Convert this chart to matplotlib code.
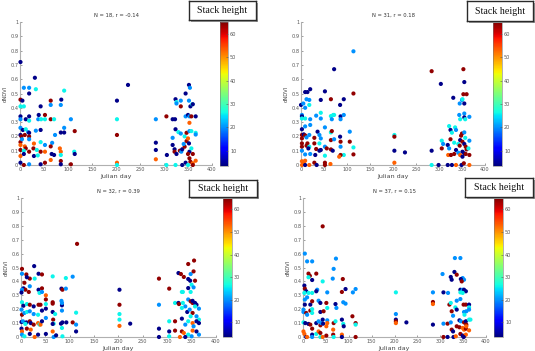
import matplotlib
matplotlib.use("Agg")
import matplotlib.pyplot as plt
from matplotlib.colors import Normalize
from matplotlib.cm import ScalarMappable
from matplotlib.patches import Rectangle

titles = ["N = 18, r = -0.14", "N = 31, r = 0.18", "N = 32, r = 0.39", "N = 37, r = 0.15"]
x_label = "Julian day"
y_label = "dNDVI"
cbar_title = "Stack height"
x_ticks = [0, 50, 100, 150, 200, 250, 300, 350, 400]
y_ticks = [0, 0.1, 0.2, 0.3, 0.4, 0.5, 0.6, 0.7, 0.8, 0.9, 1]
cbar_ticks = [10, 20, 30, 40, 50, 60]
height_min, height_max = 3.5, 65

days_1 = [1,31,8,19,33,19,92,1,5,64, 86,1,8,43,64,85,1,19,39,52, 1,12,19,38,44,52,64,71,106,1,
          6,12,17,19,33,43,1,3,10,19, 73,85,92,92,114,1,4,19,1,10, 29,43,52,67,64,1,12,8,19,28,
          35,43,52,1,8,29,37,66,71,83, 85,85,113,114,1,8,19,43,52,64, 85,85,106,202,202,202,202,202,225,283,
          283,283,283,305,306,305,324,326,326,335, 335,345,352,354,352,355,359,360,318,323,
          345,350,353,357,366,353,324,330,318,335, 343,347,353,357,366,366,318,322,322,326,
          333,336,338,343,347,350,352,353,357,350, 353,360,355,360,366,345,338,324,350,360, 341]
ndvi_1 = [0.72,0.61,0.54,0.54,0.53,0.50,0.52,0.457,0.45,0.45, 0.457,0.41,0.41,0.41,0.42,0.42,0.34,0.34,0.35,0.35,
          0.32,0.32,0.31,0.32,0.32,0.32,0.32,0.32,0.32,0.26, 0.245,0.25,0.23,0.225,0.24,0.245,0.21,0.20,0.21,0.20,
          0.21,0.227,0.227,0.26,0.237,0.16,0.18,0.18,0.14,0.13, 0.15,0.16,0.14,0.155,0.13,0.105,0.116,0.10,0.093,0.116,
          0.105,0.093,0.093,0.063,0.077,0.063,0.067,0.077,0.07,0.116, 0.093,0.07,0.093,0.077,0.016,0.0,0.005,0.005,0.016,0.035,
          0.028,0.005,0.005,0.45,0.32,0.21,0.016,0.0,0.56,0.32, 0.156,0.105,0.04,0.34,0.07,0.0,0.46,0.44,0.43,0.45,
          0.41,0.5,0.56,0.54,0.45,0.41,0.425,0.425,0.32,0.32, 0.34,0.35,0.34,0.34,0.34,0.295,0.25,0.23,0.19,0.22,
          0.2,0.225,0.237,0.237,0.225,0.213,0.14,0.11,0.093,0.077, 0.1,0.093,0.11,0.128,0.167,0.186,0.151,0.093,0.116,0.077,
          0.047,0.077,0.023,0.012,0.03,0.016,0.0,0.0,0.0,0.0, 0.147]
height_1 = [4,4,20,20,26,4,26,64,4,64, 4,26,26,4,20,20,4,4,4,64, 20,4,26,20,26,26,64,26,20,20,
            4,26,20,4,20,4,4,64,64,64, 20,4,4,20,64,64,20,20,53,53, 53,26,20,20,64,64,64,26,64,64,
            26,64,53,53,4,4,26,4,4,53, 53,26,26,4,4,64,20,4,64,53, 64,4,64,4,26,64,53,26,4,20,
            4,4,53,64,4,26,4,26,20,20, 64,4,4,20,20,4,26,4,4,4, 20,4,20,64,4,53,4,26,20,20,
            26,64,20,26,26,20,4,4,64,4, 64,20,4,64,64,53,4,4,26,64, 64,64,64,53,53,4,4,26,26,64, 20]

days_2 = [114,72,284,353,304,355,9,14,20,52, 114,0,5,12,18,18,9,43,65,93, 85,2,2,2,20,9,33,43,43,65,
          70,72,86,86,93,67,2,9,20,36, 52,65,67,106,2,6,9,2,12,18, 29,40,43,52,65,72,85,86,106,114,
          2,2,12,14,18,16,29,33,40,43, 40,56,65,69,86,93,86,83,114,2, 9,20,31,52,2,6,9,2,9,18,
          29,34,52,52,64,203,203,203,203,226, 284,284,331,350,351,353,360,355,345,344,
          346,355,355,366,357,322,325,328,335,337, 348,350,355,357,366,306,309,319,325,306,
          322,333,342,345,346,351,355,358,360,364, 337,342,351,355,358,333,320,326,366,346,
          351,299,319,328,337,349,366,354]
ndvi_2 = [0.795,0.67,0.656,0.67,0.567,0.58,0.51,0.51,0.53,0.515, 0.50,0.42,0.43,0.46,0.455,0.42,0.40,0.455,0.46,0.46,
          0.42,0.35,0.34,0.325,0.32,0.325,0.345,0.365,0.325,0.342, 0.35,0.35,0.34,0.32,0.35,0.32,0.25,0.27,0.28,0.233,
          0.263,0.228,0.237,0.233,0.21,0.214,0.207,0.186,0.193,0.21, 0.19,0.21,0.186,0.128,0.174,0.18,0.198,0.163,0.163,0.123,
          0.151,0.128,0.135,0.151,0.128,0.116,0.151,0.112,0.1,0.105, 0.151,0.116,0.109,0.1,0.128,0.07,0.07,0.058,0.074,0.1,
          0.074,0.077,0.07,0.065,0.026,0.016,0.03,0.0,0.0,0.0, 0.016,0.0,0.016,0.0,0.007,0.21,0.198,0.1,0.016,0.088,
          0.1,0.0,0.47,0.455,0.46,0.495,0.495,0.43,0.43,0.35, 0.32,0.36,0.333,0.337,0.32,0.272,0.245,0.226,0.263,0.245,
          0.205,0.22,0.228,0.19,0.17,0.17,0.147,0.14,0.18,0.116, 0.116,0.156,0.147,0.135,0.174,0.163,0.147,0.128,0.109,0.116,
          0.105,0.086,0.093,0.081,0.077,0.077,0.07,0.07,0.07,0.07, 0.058,0.0,0.0,0.0,0.0,0.0,0.0,0.012]
height_2 = [20,4,64,64,4,4,4,4,4,4, 64,4,20,20,20,26,20,4,64,4, 4,20,4,26,20,26,20,26,20,26,
            26,26,4,20,20,20,4,20,20,4, 20,26,64,20,64,4,64,64,20,20, 64,20,20,20,64,20,4,64,64,26,
            64,64,64,64,26,4,64,64,4,4, 26,64,64,4,20,26,64,53,64,20, 20,20,4,26,53,53,53,53,4,53,
            64,4,64,64,53,26,64,4,53,4, 4,26,4,20,26,64,64,4,20,20, 26,20,4,20,26,26,4,26,26,20,
            64,64,20,26,20,26,20,4,64,64, 20,26,26,64,4,64,4,64,64,26, 4,20,4,4,64,64,53,64,64,53,
            4,4,4,4,53,4,53,64]

days_3 = [115,27,2,2,11,18,36,43,7,12, 5,9,2,1,18,28,36,38,43,43, 16,51,51,65,83,85,92,92,106,2,
          5,12,18,26,36,40,51,65,65,83, 84,84,1,2,7,12,18,26,35,43, 51,65,70,84,113,1,4,11,18,20,
          9,26,35,38,40,43,51,66,67,65, 82,85,84,93,106,113,113,1,2,12, 20,18,2,7,28,35,51,65,67,72,
          85,202,202,202,202,202,224,283,283,283, 283,304,304,304,304,323,328,334,343,355,
          348,354,357,343,347,343,348,330,332,350, 354,316,323,324,332,337,343,348,352,352,
          357,360,357,365,330,341,346,352,360,365, 316,330,337,343,348,352,360,365,354,316,
          330,334,352,360,343,350,365,326,337]
ndvi_3 = [0.67,0.51,0.49,0.455,0.45,0.42,0.455,0.45,0.39,0.43, 0.35,0.34,0.34,0.32,0.365,0.42,0.34,0.317,0.35,0.324,
          0.324,0.3,0.27,0.436,0.348,0.34,0.348,0.424,0.434,0.25, 0.225,0.237,0.232,0.22,0.232,0.232,0.237,0.25,0.24,0.26,
          0.228,0.245,0.197,0.16,0.173,0.18,0.185,0.165,0.16,0.19, 0.204,0.18,0.165,0.19,0.175,0.108,0.113,0.105,0.113,0.1,
          0.094,0.089,0.1,0.089,0.089,0.113,0.137,0.125,0.096,0.094, 0.096,0.105,0.065,0.105,0.105,0.04,0.089,0.06,0.04,0.06,
          0.053,0.022,0.017,0.005,0.0,0.017,0.022,0.04,0.0,0.012, 0.005,0.34,0.232,0.165,0.125,0.08,0.096,0.42,0.232,0.06,
          0.0,0.348,0.113,0.04,0.005,0.46,0.453,0.432,0.525,0.55, 0.453,0.472,0.405,0.417,0.405,0.352,0.324,0.324,0.324,0.376,
          0.357,0.245,0.245,0.237,0.245,0.22,0.27,0.257,0.245,0.26, 0.245,0.232,0.22,0.204,0.209,0.18,0.197,0.173,0.149,0.125,
          0.113,0.132,0.089,0.113,0.149,0.1,0.113,0.1,0.077,0.046, 0.04,0.029,0.046,0.04,0.017,0.005,0.017,0.0,0.0]
height_3 = [64,4,64,20,64,64,4,64,64,4, 4,64,20,4,20,26,4,26,64,20, 64,53,64,26,4,64,20,26,20,26,
            4,26,64,4,64,64,26,64,64,20, 4,20,20,64,20,26,20,20,26,4, 4,4,26,20,26,4,20,4,64,4,
            26,64,53,26,53,4,20,64,26,4, 4,4,26,4,64,4,20,4,53,64, 53,4,20,26,53,4,4,53,20,4,
            26,4,64,26,26,53,4,64,20,4, 4,64,26,4,26,4,64,64,64,64, 20,64,64,4,4,4,26,26,26,26,
            20,26,4,64,26,20,20,64,64,4, 4,4,26,20,26,4,20,64,20,26, 64,4,20,26,26,53,4,4,20,64,
            64,53,53,4,26,20,20,53,4]

days_4 = [43,4,9,20,72,67,12,15,29,12, 20,43,65,87,3,4,7,3,12,20, 31,29,53,85,93,109,115,4,4,9,
          16,20,34,38,51,53,71,73,88,93, 1,1,7,9,16,20,20,38,45,53, 108,1,5,12,16,20,29,34,38,40,
          43,44,53,51,67,71,66,85,88,89, 115,115,1,3,7,9,20,20,29,34, 38,38,43,51,66,67,85,85,115,203,
          203,203,203,203,226,284,284,284,284,305, 307,307,307,332,344,331,323,325,336,349,
          352,345,347,317,344,349,352,356,344,349, 336,344,320,323,325,333,336,351,356,363,
          363,363,352,353,357,316,323,328,342,345, 352,356,357,363,366,325,328,336,342,349,
          352,356,357,363,344,349,352,356,316,329,334,351]
ndvi_4 = [0.796,0.6,0.544,0.544,0.564,0.49,0.456,0.44,0.456,0.43, 0.41,0.4,0.42,0.417,0.37,0.348,0.329,0.317,0.317,0.317,
          0.34,0.329,0.321,0.324,0.345,0.321,0.345,0.269,0.233,0.285, 0.233,0.257,0.261,0.245,0.245,0.209,0.237,0.209,0.25,0.24,
          0.197,0.18,0.173,0.16,0.19,0.2,0.173,0.18,0.185,0.12, 0.149,0.105,0.1,0.094,0.089,0.06,0.1,0.113,0.084,0.1,
          0.125,0.096,0.1,0.077,0.1,0.113,0.053,0.125,0.094,0.077, 0.1,0.089,0.04,0.022,0.0,0.0,0.017,0.0,0.022,0.04,
          0.029,0.0,0.0,0.01,0.017,0.0,0.017,0.0,0.0,0.321, 0.165,0.125,0.113,0.1,0.105,0.321,0.252,0.237,0.089,0.453,
          0.321,0.096,0.0,0.568,0.568,0.468,0.432,0.412,0.448,0.424, 0.412,0.417,0.4,0.317,0.34,0.34,0.34,0.329,0.321,0.317,
          0.261,0.273,0.233,0.245,0.185,0.213,0.197,0.233,0.233,0.233, 0.213,0.197,0.18,0.16,0.185,0.096,0.105,0.153,0.12,0.113,
          0.105,0.113,0.089,0.125,0.125,0.053,0.04,0.077,0.07,0.065, 0.053,0.06,0.077,0.048,0.022,0.01,0.005,0.017,0.0,0.0,0.005,0.0]
height_4 = [64,20,20,20,20,20,64,64,64,26, 4,26,20,64,4,64,4,26,26,26, 20,4,20,64,4,20,20,20,4,20,
            4,64,20,4,64,26,4,20,20,20, 20,20,64,20,64,26,26,4,64,20, 64,26,4,4,64,64,4,20,64,20,
            4,4,53,53,64,26,53,4,26,4, 64,26,53,53,4,53,4,20,26,53, 64,26,53,64,64,26,53,4,64,26,
            20,4,64,53,4,20,64,53,4,20, 4,20,64,20,20,4,4,4,64,20, 20,4,64,20,4,20,4,4,26,26,
            20,20,64,26,64,26,4,64,64,4, 26,20,20,26,20,64,20,20,4,20, 64,4,64,26,26,64,4,64,64,53,
            53,64,53,53,64,4,64,53,4,4,53,4]

panels = [(days_1, ndvi_1, height_1), (days_2, ndvi_2, height_2),
          (days_3, ndvi_3, height_3), (days_4, ndvi_4, height_4)]

# layout in pixels (left, top, right, bottom) of a 535x351 canvas
W, H = 535, 351
ax_px = [(20, 22, 212, 165), (301, 22, 485, 165), (21, 198, 216, 337), (303, 198, 486, 337)]
cb_px = [(220, 22, 228, 166), (493, 22, 502, 166), (223, 198, 232, 337), (494, 198, 503, 337)]
box_px = [(189, 1, 256, 20), (467, 1, 533, 21), (189, 180, 257, 197), (465, 178, 533, 197)]

def frac(r):
    l, t, rr, b = r
    return [l / W, 1 - b / H, (rr - l) / W, (b - t) / H]

fig = plt.figure(figsize=(W / 100, H / 100), dpi=100)
fig.patch.set_facecolor("white")
norm = Normalize(vmin=height_min, vmax=height_max)
cmap = plt.get_cmap("jet")
tick_fs = 3.6

for i, (d, v, h) in enumerate(panels):
    ax = fig.add_axes(frac(ax_px[i]))
    ax.scatter(d, v, c=h, cmap=cmap, norm=norm, s=9, linewidths=0, zorder=3, clip_on=False)
    ax.set_xlim(0, 400)
    ax.set_ylim(0, 1)
    ax.set_xticks(x_ticks)
    ax.set_yticks(y_ticks)
    ax.set_yticklabels([("%g" % t) for t in y_ticks])
    for s in ["top", "right"]:
        ax.spines[s].set_visible(False)
    for s in ["left", "bottom"]:
        ax.spines[s].set_color("#b0b0b0")
        ax.spines[s].set_linewidth(0.8)
    ax.tick_params(direction="in", length=1.5, width=0.4, labelsize=tick_fs,
                   colors="#555555", pad=1.2)
    ax.set_title(titles[i], fontsize=3.8, color="#333333", pad=4)
    ax.set_xlabel(x_label, fontsize=4.6, color="#444444", labelpad=1.5)
    ax.set_ylabel(y_label, fontsize=3.8, color="#444444", labelpad=1.5)

    cax = fig.add_axes(frac(cb_px[i]))
    cb = fig.colorbar(ScalarMappable(norm=norm, cmap=cmap), cax=cax, ticks=cbar_ticks)
    cb.outline.set_linewidth(0.4)
    cb.outline.set_edgecolor("#777777")
    cax.tick_params(labelsize=tick_fs, length=1.2, width=0.4, colors="#555555", pad=1.5,
                    direction="in")

    bl, bt, br, bb = box_px[i]
    # drop shadow
    fig.patches.append(Rectangle(((bl + 2) / W, 1 - (bb + 2) / H), (br - bl) / W, (bb - bt) / H,
                                 transform=fig.transFigure, facecolor="#9a9a9a",
                                 edgecolor="none", zorder=5))
    bax = fig.add_axes(frac(box_px[i]), zorder=6)
    bax.set_facecolor("white")
    bax.set_xticks([]); bax.set_yticks([])
    for s in bax.spines.values():
        s.set_linewidth(1.0)
        s.set_edgecolor("#2a2a2a")
    bax.text(0.5, 0.5, cbar_title, ha="center", va="center", fontsize=7.2,
             family="Liberation Serif", color="#111111", transform=bax.transAxes)

fig.savefig("out.png", dpi=100, facecolor="white")
